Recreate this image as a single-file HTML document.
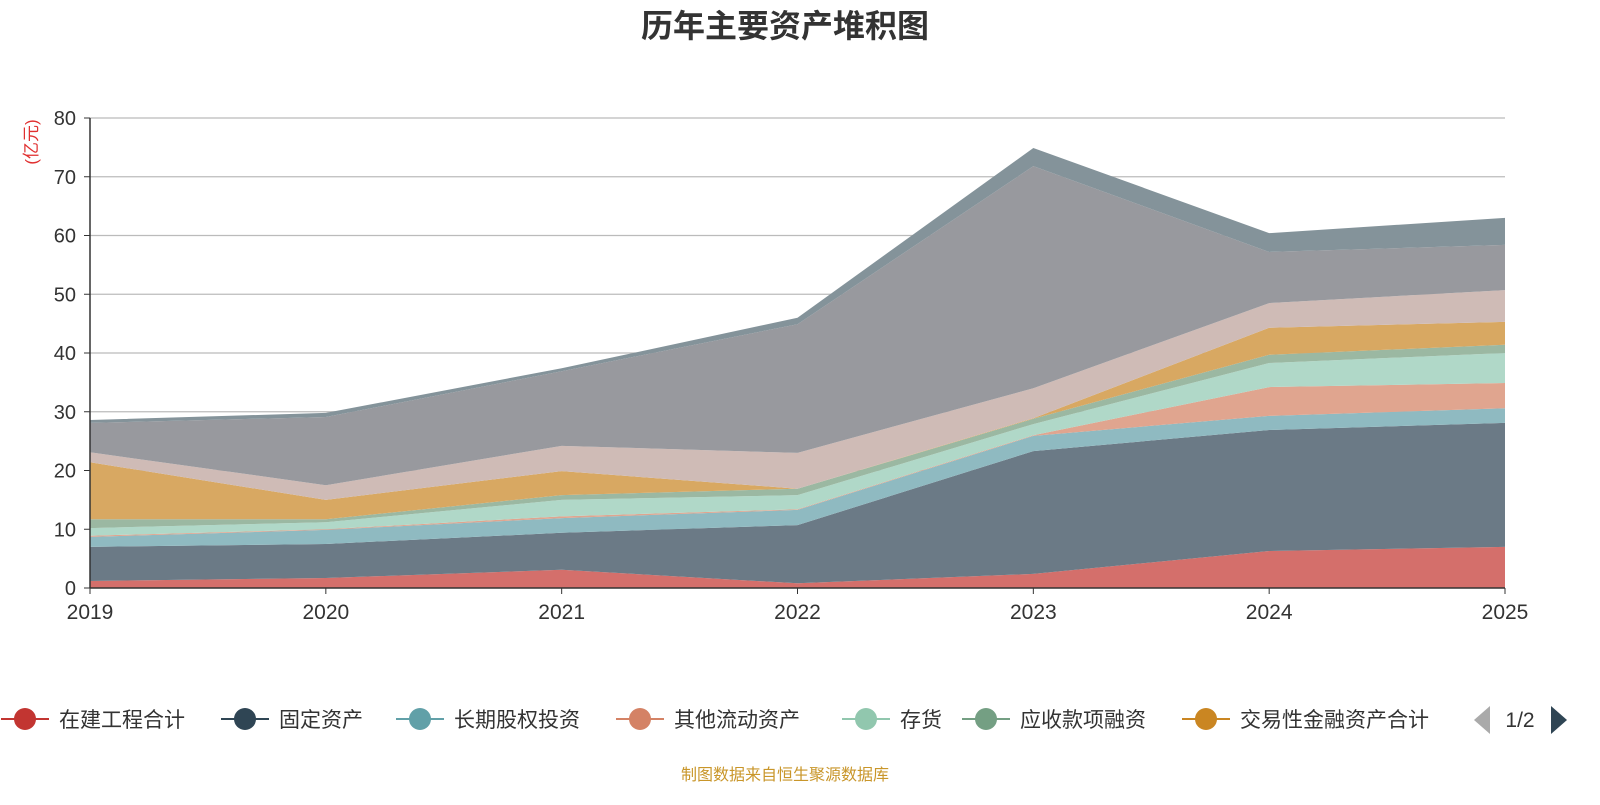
<!DOCTYPE html>
<html><head><meta charset="utf-8"><style>
body{margin:0;background:#fff;font-family:"Liberation Sans","Noto Sans CJK SC",sans-serif;}
</style></head><body>
<svg id="c" width="1600" height="800" xmlns="http://www.w3.org/2000/svg" font-family="Liberation Sans, Noto Sans CJK SC, sans-serif">
<text x="785" y="37" text-anchor="middle" font-size="32" font-weight="bold" fill="#333">历年主要资产堆积图</text>
<text transform="translate(37,142) rotate(-90)" text-anchor="middle" font-size="17" fill="#e03030">(亿元)</text>
<g id="grid"></g><g id="areas"></g><g id="axes"></g><g id="legend"></g>
<text x="785" y="780" text-anchor="middle" font-size="16" fill="#c9962a">制图数据来自恒生聚源数据库</text>
</svg>
<script>
const years=["2019","2020","2021","2022","2023","2024","2025"];
const yTicks=[0,10,20,30,40,50,60,70,80];
const sZaijian=[1.2,1.7,3.1,0.8,2.4,6.3,7.0];
const sGuding=[5.8,5.8,6.3,9.9,20.9,20.6,21.1];
const sChangqi=[1.7,2.4,2.5,2.6,2.6,2.4,2.5];
const sQita=[0.2,0.1,0.3,0.1,0.1,4.9,4.3];
const sCunhuo=[1.3,1.2,2.8,2.4,1.9,4.1,5.1];
const sYingshou=[1.5,0.5,0.8,1.1,0.9,1.4,1.4];
const sJiaoyi=[9.7,3.3,4.1,0,0.1,4.6,3.9];
const sP2a=[1.7,2.5,4.3,6.1,5.1,4.2,5.4];
const sP2b=[5.0,11.6,12.7,21.9,37.8,8.7,7.7];
const sP2c=[0.5,0.7,0.5,1.1,3.1,3.2,4.6];
const names=["在建工程合计","固定资产","长期股权投资","其他流动资产","存货","应收款项融资","交易性金融资产合计","其他资产A","其他资产B","其他资产C"];
const series=[sZaijian,sGuding,sChangqi,sQita,sCunhuo,sYingshou,sJiaoyi,sP2a,sP2b,sP2c];
const fills=["#d46f6b","#6b7a86","#8fbac1","#e0a58f","#b0d8c8","#9bb8a2","#d8a862","#cfbbb6","#98999e","#84939a"];
const lineCols=["#c23531","#2f4554","#61a0a8","#d48265","#91c7ae","#749f83","#ca8622"];
const NS="http://www.w3.org/2000/svg";
const X0=90,X1=1505,Y0=588,Y1=118,YMAX=80;
const xs=i=>X0+(X1-X0)*i/(years.length-1);
const ys=v=>Y0-(Y0-Y1)*v/YMAX;
function mk(t,a,p){const e=document.createElementNS(NS,t);for(const k in a)e.setAttribute(k,a[k]);p.appendChild(e);return e;}
const grid=document.getElementById('grid'),areas=document.getElementById('areas'),axes=document.getElementById('axes'),leg=document.getElementById('legend');
yTicks.forEach(v=>{
 if(v>0){const g=mk('line',{x1:X0,x2:X1,y1:ys(v),y2:ys(v),stroke:'#bbb','stroke-width':1.3},grid);
 
 }
 const t=mk('text',{x:X0-14,y:ys(v)+7,'text-anchor':'end','font-size':20,fill:'#333'},axes);t.textContent=v;
 
 
 mk('line',{x1:X0-6,x2:X0,y1:ys(v),y2:ys(v),stroke:'#333'},axes);
});
let base=years.map(()=>0);
series.forEach((s,k)=>{
 const top=base.map((b,i)=>b+s[i]);
 let d='M'+years.map((_,i)=>xs(i)+','+ys(top[i])).join(' L');
 for(let i=years.length-1;i>=0;i--)d+=' L'+xs(i)+','+ys(base[i]);
 const p=mk('path',{d:d+'Z',fill:fills[k]},areas);
 
 
 base=top;
});
mk('line',{x1:X0,x2:X0,y1:Y1,y2:Y0,stroke:'#333','stroke-width':1.5},axes);
mk('line',{x1:X0,x2:X1,y1:Y0,y2:Y0,stroke:'#333','stroke-width':1.5},axes);
years.forEach((y,i)=>{
 mk('line',{x1:xs(i),x2:xs(i),y1:Y0,y2:Y0+6,stroke:'#333'},axes);
 const t=mk('text',{x:xs(i),y:Y0+31,'text-anchor':'middle','font-size':21,fill:'#333'},axes);t.textContent=y;
 
 
});
const lx=[25,245,420,640,866,986,1206];
lx.forEach((x,k)=>{
 const g=mk('g',{},leg);
 
 
 mk('line',{x1:x-24,x2:x+24,y1:719,y2:719,stroke:lineCols[k],'stroke-width':2},g);
 mk('circle',{cx:x,cy:719,r:11,fill:lineCols[k]},g);
 const t=mk('text',{x:x+34,y:727,'font-size':21,fill:'#333'},g);t.textContent=names[k];
});
const pl=mk('path',{d:'M1490,706 L1490,734 L1474,720Z',fill:'#aaa'},leg);


const pt=mk('text',{x:1520,y:727,'text-anchor':'middle','font-size':21,fill:'#333'},leg);pt.textContent='1/2';


const pr=mk('path',{d:'M1551,706 L1551,734 L1567,720Z',fill:'#2f4554'},leg);


</script>
</body></html>
